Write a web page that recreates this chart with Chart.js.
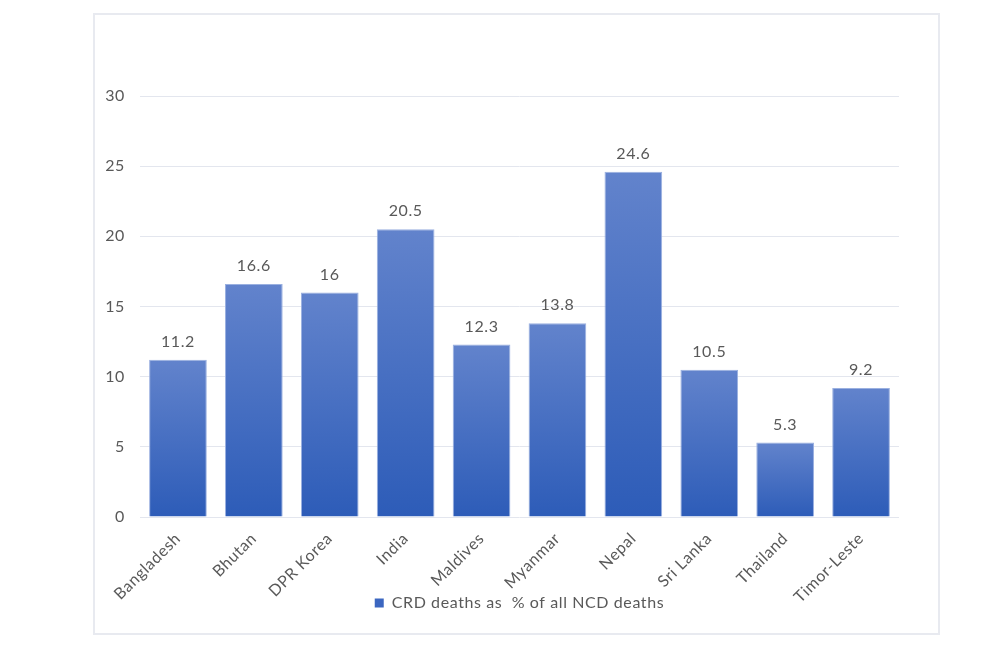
<!DOCTYPE html>
<html>
<head>
<meta charset="utf-8">
<script src="https://cdn.jsdelivr.net/npm/chart.js@4.4.1/dist/chart.umd.min.js"></script>
<style>
  html,body{margin:0;padding:0;background:#fff;}
  #frame{position:absolute;left:93px;top:13px;width:843px;height:618px;border:2px solid #e8eaf0;}
  #wrap{position:absolute;left:0;top:0;width:843px;height:618px;}
</style>
</head>
<body>
<div id="frame"><div id="wrap"><canvas id="c"></canvas></div></div>
<script>
const categories = ["Bangladesh","Bhutan","DPR Korea","India","Maldives","Myanmar","Nepal","Sri Lanka","Thailand","Timor-Leste"];
const values = [11.2, 16.6, 16, 20.5, 12.3, 13.8, 24.6, 10.5, 5.3, 9.2];
const seriesName = "CRD deaths as  % of all NCD deaths";
const yMin = 0, yMax = 30, yStep = 5;

const FONT = "Lato, 'Open Sans', sans-serif";
const TEXT = "#595959";
const SPACING = '0.6px';

function barGradient(ctx) {
  const chart = ctx.chart;
  const area = chart.chartArea;
  if (!area || ctx.type !== 'data') return '#4472c4';
  const y = chart.scales.y;
  const top = y.getPixelForValue(ctx.raw);
  const bottom = y.getPixelForValue(0);
  const g = chart.ctx.createLinearGradient(0, top, 0, bottom);
  g.addColorStop(0, '#6283cc');
  g.addColorStop(1, '#2d5cb8');
  return g;
}

const spacing = {
  id: 'spacing',
  beforeUpdate(chart) { chart.ctx.letterSpacing = SPACING; },
  beforeLayout(chart) { chart.ctx.letterSpacing = SPACING; },
  beforeDraw(chart) { chart.ctx.letterSpacing = SPACING; }
};

const valueLabels = {
  id: 'valueLabels',
  afterDatasetsDraw(chart) {
    const ctx = chart.ctx;
    const meta = chart.getDatasetMeta(0);
    ctx.save();
    ctx.font = "16px " + FONT;
    ctx.fillStyle = TEXT;
    ctx.textAlign = 'center';
    ctx.textBaseline = 'bottom';
    meta.data.forEach((bar, i) => {
      ctx.fillText(String(values[i]), bar.x, bar.y - 10);
    });
    ctx.restore();
  }
};

function noLabelClip(scale) { scale._computeLabelArea = function () { return undefined; }; }

new Chart(document.getElementById('c'), {
  type: 'bar',
  data: {
    labels: categories,
    datasets: [{
      label: seriesName,
      data: values,
      backgroundColor: barGradient,
      borderColor: '#9ab0e0',
      borderWidth: 1,
      categoryPercentage: 1.0,
      barPercentage: 0.76
    }]
  },
  options: {
    responsive: true,
    maintainAspectRatio: false,
    animation: false,
    layout: { padding: { left: 45, right: 39, top: 81, bottom: 12 } },
    plugins: {
      legend: {
        position: 'bottom',
        labels: {
          font: { family: FONT, size: 16 },
          color: TEXT,
          boxWidth: 9,
          boxHeight: 9,
          padding: 4,
          generateLabels(chart) {
            return [{ text: seriesName, fillStyle: '#3b66c0', strokeStyle: '#3b66c0', lineWidth: 0, fontColor: TEXT, datasetIndex: 0 }];
          }
        }
      },
      tooltip: { enabled: false }
    },
    scales: {
      x: {
        grid: { display: false },
        border: { display: false },
        ticks: {
          font: { family: FONT, size: 16 },
          color: TEXT,
          maxRotation: 45,
          minRotation: 45,
          padding: 4
        },
        afterFit(scale) { scale.height = 74; noLabelClip(scale); }
      },
      y: {
        min: yMin, max: yMax,
        grid: { color: '#e3e6ee', drawTicks: false, lineWidth: 1 },
        border: { display: false },
        ticks: {
          stepSize: yStep,
          font: { family: FONT, size: 16 },
          color: TEXT,
          padding: 15
        },
        afterFit(scale) { scale.width = 0; noLabelClip(scale); }
      }
    }
  },
  plugins: [spacing, valueLabels]
});
</script>
</body>
</html>
